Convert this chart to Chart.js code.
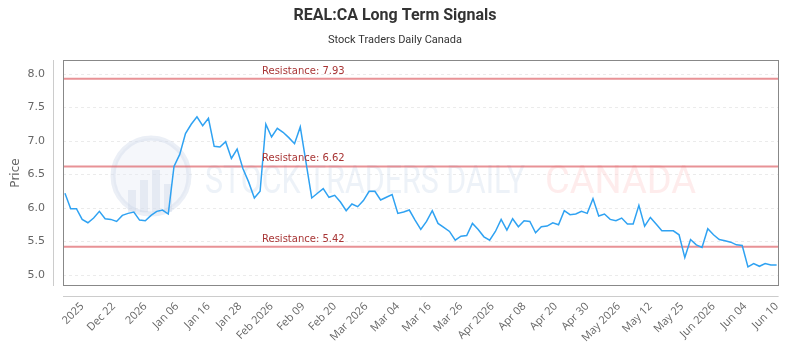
<!DOCTYPE html>
<html>
<head>
<meta charset="utf-8">
<title>REAL:CA Long Term Signals</title>
<script src="https://cdn.jsdelivr.net/npm/chart.js@4.4.1/dist/chart.umd.min.js"></script>
<style>
  html, body { margin: 0; padding: 0; background: #fff; }
  #wrap { width: 800px; height: 350px; }
</style>
</head>
<body>
<div id="wrap"><canvas id="signals" width="800" height="350"></canvas></div>
<script>
// ---- data ----
// daily closes, one per trading day (mid Dec 2025 -> Jun 10 2026)
const prices = [
  6.22, 5.99, 5.99, 5.83, 5.78, 5.85, 5.95, 5.84, 5.83, 5.80,
  5.89, 5.92, 5.94, 5.82, 5.81, 5.89, 5.95, 5.97, 5.91, 6.62,
  6.80, 7.11, 7.25, 7.36, 7.23, 7.34, 6.92, 6.91, 6.99, 6.74,
  6.88, 6.59, 6.39, 6.15, 6.25, 7.25, 7.06, 7.19, 7.13, 7.05,
  6.96, 7.21, 6.68, 6.15, 6.22, 6.29, 6.16, 6.19, 6.09, 5.96,
  6.06, 6.02, 6.11, 6.25, 6.25, 6.12, 6.16, 6.20, 5.92, 5.94,
  5.97, 5.82, 5.68, 5.80, 5.96, 5.77, 5.71, 5.65, 5.52, 5.58,
  5.59, 5.77, 5.68, 5.57, 5.52, 5.65, 5.83, 5.67, 5.84, 5.72,
  5.81, 5.80, 5.63, 5.72, 5.73, 5.78, 5.75, 5.96, 5.90, 5.91,
  5.95, 5.92, 6.14, 5.88, 5.91, 5.83, 5.81, 5.85, 5.76, 5.76,
  6.04, 5.73, 5.86, 5.76, 5.66, 5.66, 5.66, 5.60, 5.26, 5.53,
  5.45, 5.41, 5.69, 5.60, 5.53, 5.51, 5.49, 5.45, 5.44, 5.12,
  5.17, 5.13, 5.17, 5.15, 5.15
];

const resistanceLevels = [7.93, 6.62, 5.42];

// x axis labels and the day index each one sits on
const tickLabels = [
  "2025", "Dec 22", "2026", "Jan 06", "Jan 16", "Jan 28", "Feb 2026", "Feb 09",
  "Feb 20", "Mar 2026", "Mar 04", "Mar 16", "Mar 26", "Apr 2026", "Apr 08",
  "Apr 20", "Apr 30", "May 2026", "May 12", "May 25", "Jun 2026", "Jun 04", "Jun 10"
];
const tickIndex = [
  3, 8.5, 14, 19.5, 25, 30.5, 36, 41.5, 47, 52.5, 58, 63.5,
  69, 74.5, 80, 85.5, 91, 96.5, 102, 107.5, 113, 118.5, 124
];

const priceTicks = [5.0, 5.5, 6.0, 6.5, 7.0, 7.5, 8.0];

const X_MIN = -0.34;
const X_MAX = 124.34;

// ---- plugins ----
// faint logo / text watermark behind the series
const watermark = {
  id: "watermark",
  beforeDatasetsDraw(chart) {
    const ctx = chart.ctx;
    ctx.save();
    // round logo
    ctx.beginPath();
    ctx.arc(151, 176, 38, 0, Math.PI * 2);
    ctx.fillStyle = "rgba(230, 236, 245, 0.4)";
    ctx.fill();
    ctx.lineWidth = 5;
    ctx.strokeStyle = "rgba(205, 216, 232, 0.4)";
    ctx.stroke();
    ctx.fillStyle = "rgba(205, 216, 232, 0.4)";
    [[128, 190, 8, 22], [140, 180, 8, 32], [152, 170, 8, 42], [164, 184, 8, 28]].forEach(b => {
      ctx.fillRect(b[0], b[1], b[2], b[3]);
    });
    // text
    ctx.font = "38px Roboto";
    ctx.textBaseline = "alphabetic";
    ctx.textAlign = "left";
    ctx.fillStyle = "rgba(220, 229, 242, 0.5)";
    ctx.fillText("STOCK TRADERS DAILY", 205, 193, 320);
    ctx.fillStyle = "rgba(252, 212, 212, 0.45)";
    ctx.fillText("CANADA", 545, 193, 152);
    ctx.restore();
  }
};

// plot frame, offset axis lines and resistance labels
const decorations = {
  id: "decorations",
  afterDatasetsDraw(chart) {
    const ctx = chart.ctx;
    const a = chart.chartArea;
    const y = chart.scales.y;
    ctx.save();
    ctx.fillStyle = "#a83535";
    ctx.font = "10px 'DejaVu Sans'";
    ctx.textAlign = "left";
    ctx.textBaseline = "alphabetic";
    resistanceLevels.forEach(lvl => {
      ctx.fillText("Resistance: " + lvl.toFixed(2), a.left + 199, y.getPixelForValue(lvl) - 5);
    });

    ctx.lineWidth = 1;
    ctx.strokeStyle = "#888";
    ctx.strokeRect(Math.round(a.left) + 0.5, Math.round(a.top) + 0.5,
      Math.round(a.right - a.left) - 1, Math.round(a.bottom - a.top) - 1);

    ctx.strokeStyle = "#ccc";
    ctx.beginPath();
    ctx.moveTo(Math.round(a.left) - 9.5, a.top);
    ctx.lineTo(Math.round(a.left) - 9.5, a.bottom);
    ctx.moveTo(a.left, Math.round(a.bottom) + 10.5);
    ctx.lineTo(a.right, Math.round(a.bottom) + 10.5);
    ctx.stroke();
    ctx.restore();
  }
};

// ---- chart ----
const datasets = [{
  data: prices.map((p, i) => ({ x: i, y: p })),
  borderColor: "#2fa2f2",
  borderWidth: 1.5,
  pointRadius: 0,
  tension: 0,
  fill: false
}];
resistanceLevels.forEach(lvl => {
  datasets.push({
    data: [{ x: X_MIN, y: lvl }, { x: X_MAX, y: lvl }],
    borderColor: "rgba(222, 100, 105, 0.7)",
    borderWidth: 2,
    pointRadius: 0,
    fill: false
  });
});

const ctx = document.getElementById("signals").getContext("2d");
const chart = new Chart(ctx, {
  type: "line",
  data: { datasets: datasets },
  plugins: [watermark, decorations],
  options: {
    responsive: false,
    animation: false,
    devicePixelRatio: 1,
    layout: { padding: { top: 0, right: 10, bottom: 0, left: 0 } },
    plugins: {
      legend: { display: false },
      tooltip: { enabled: false },
      title: {
        display: true,
        text: "REAL:CA Long Term Signals",
        color: "#333",
        font: { family: "Roboto", size: 16, weight: "bold" },
        padding: { top: 6, bottom: 8 }
      },
      subtitle: {
        display: true,
        text: "Stock Traders Daily Canada",
        color: "#333",
        font: { family: "Roboto", size: 11 },
        padding: { top: 0, bottom: 13.6 }
      }
    },
    scales: {
      x: {
        type: "linear",
        min: X_MIN,
        max: X_MAX,
        afterBuildTicks: axis => { axis.ticks = tickIndex.map(v => ({ value: v })); },
        afterFit: axis => { axis.height = 64; },
        grid: { display: false, drawTicks: false },
        border: { display: false },
        ticks: {
          autoSkip: false,
          minRotation: 45,
          maxRotation: 45,
          padding: 14,
          color: "#666",
          font: { family: "Open Sans", size: 11 },
          callback: (v, i) => tickLabels[i]
        }
      },
      y: {
        min: 4.836,
        max: 8.209,
        afterBuildTicks: axis => { axis.ticks = priceTicks.map(v => ({ value: v })); },
        afterFit: axis => { axis.width = 63; },
        grid: { color: "#ebebeb", drawTicks: false },
        border: { display: false, dash: [3, 3] },
        ticks: {
          padding: 18,
          color: "#666",
          font: { family: "DejaVu Sans", size: 11 },
          callback: v => v.toFixed(1)
        },
        title: {
          display: true,
          text: "Price",
          color: "#666",
          font: { family: "DejaVu Sans", size: 12 },
          padding: { top: 9, bottom: 0 }
        }
      }
    }
  }
});
</script>
</body>
</html>
